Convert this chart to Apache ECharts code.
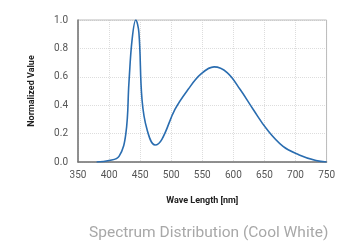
<!DOCTYPE html>
<html>
<head>
<meta charset="utf-8">
<script src="https://cdn.jsdelivr.net/npm/echarts@6/dist/echarts.min.js"></script>
<style>
  html, body { margin: 0; padding: 0; background: #fff; }
  #chart { width: 338px; height: 242px; }
</style>
</head>
<body>
<div id="chart"></div>
<script>
  // wavelength (nm) and normalized spectral value
  var waveLength = [380, 400, 416, 427, 432, 437, 443, 448, 453, 461, 474, 485, 506, 527, 548, 569, 590, 611, 632, 654, 680, 706, 733, 750];
  var normValue  = [0.0, 0.01, 0.04, 0.2, 0.56, 0.86, 1.0, 0.91, 0.44, 0.23, 0.12, 0.16, 0.37, 0.51, 0.62, 0.67, 0.63, 0.51, 0.37, 0.23, 0.11, 0.05, 0.01, 0.0];

  var points = waveLength.map(function (w, i) { return [w, normValue[i]]; });

  var chart = echarts.init(document.getElementById('chart'));
  var option = {
    animation: false,
    title: {
      text: 'Spectrum Distribution (Cool White)',
      left: 84,
      top: 220,
      textStyle: { color: '#a8a8a8', fontSize: 15.5, fontWeight: 'normal', fontFamily: 'Roboto' }
    },
    grid: { left: 78, right: 7, top: 20, bottom: 80 },
    xAxis: {
      type: 'value',
      min: 350, max: 750, interval: 50,
      name: 'Wave Length [nm]',
      nameLocation: 'middle',
      nameGap: 34,
      nameTextStyle: { color: '#222', fontSize: 9, fontWeight: 'bold', fontFamily: 'Roboto' },
      axisLine: { lineStyle: { color: '#777', width: 1.5 } },
      axisTick: { show: false },
      axisLabel: { color: '#555', fontSize: 10, fontFamily: 'Roboto', margin: 8 },
      splitLine: { show: true, lineStyle: { color: '#ddd', type: 'dotted' } }
    },
    yAxis: {
      type: 'value',
      min: 0, max: 1, interval: 0.2,
      name: 'Normalized Value',
      nameLocation: 'middle',
      nameGap: 42,
      nameTextStyle: { color: '#222', fontSize: 9, fontWeight: 'bold', fontFamily: 'Roboto' },
      axisLine: { show: true, lineStyle: { color: '#777', width: 1.5 } },
      axisTick: { show: false },
      axisLabel: { color: '#555', fontSize: 10, fontFamily: 'Roboto', margin: 10,
        formatter: function (v) { return v.toFixed(1); } },
      splitLine: { show: true, lineStyle: { color: '#ddd', type: 'dotted' } }
    },
    series: [{
      type: 'line',
      data: points,
      smooth: 0.4,
      symbol: 'none',
      lineStyle: { color: '#2a6db0', width: 1.6 }
    }]
  };
  chart.setOption(option);

  // box around plot area (top/right edges)
  var rect = chart.getModel().getComponent('grid').coordinateSystem.getRect();
  chart.setOption({
    graphic: [{
      type: 'rect', silent: true, z: 0,
      shape: { x: rect.x, y: rect.y, width: rect.width, height: rect.height },
      style: { fill: 'none', stroke: '#bbb', lineWidth: 1 }
    }]
  });
</script>
</body>
</html>
